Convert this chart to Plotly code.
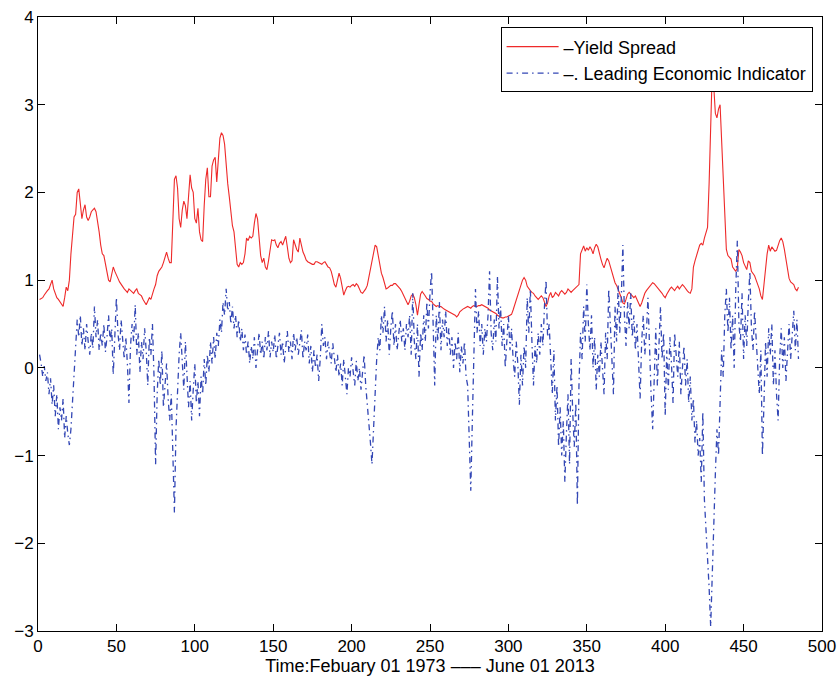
import plotly.graph_objects as go

# Monthly observations, Feb 1973 .. Jun 2013 (485 months)
yield_spread = [
    0.78, 0.79, 0.80, 0.83, 0.86, 0.88, 0.90, 0.95, 1.00, 0.90,
    0.85, 0.80, 0.78, 0.75, 0.72, 0.70, 0.80, 0.92, 0.88, 1.00,
    1.30, 1.55, 1.72, 1.75, 2.00, 2.04, 1.85, 1.70, 1.80, 1.86,
    1.72, 1.68, 1.72, 1.78, 1.80, 1.82, 1.78, 1.68, 1.55, 1.40,
    1.30, 1.28, 1.18, 1.10, 1.00, 0.98, 1.05, 1.15, 1.10, 1.05,
    1.02, 0.98, 0.95, 0.92, 0.90, 0.88, 0.86, 0.90, 0.88, 0.86,
    0.85, 0.88, 0.90, 0.85, 0.83, 0.82, 0.78, 0.74, 0.72, 0.76,
    0.80, 0.78, 0.85, 0.90, 0.95, 1.05, 1.10, 1.12, 1.15, 1.20,
    1.25, 1.32, 1.25, 1.20, 1.20, 1.70, 2.15, 2.19, 2.05, 1.70,
    1.60, 1.80, 1.90, 1.85, 1.70, 1.95, 2.20, 2.05, 2.00, 1.70,
    1.65, 1.82, 1.55, 1.46, 1.44, 1.85, 2.15, 2.28, 1.95, 1.95,
    2.30, 2.37, 2.40, 2.12, 2.40, 2.62, 2.68, 2.65, 2.55, 2.30,
    2.10, 1.95, 1.75, 1.62, 1.55, 1.35, 1.18, 1.15, 1.20, 1.18,
    1.20, 1.30, 1.48, 1.45, 1.50, 1.48, 1.50, 1.65, 1.76, 1.70,
    1.45, 1.28, 1.20, 1.25, 1.15, 1.12, 1.22, 1.35, 1.46, 1.45,
    1.46, 1.40, 1.37, 1.42, 1.44, 1.40, 1.45, 1.50, 1.38, 1.25,
    1.20, 1.22, 1.46, 1.40, 1.35, 1.32, 1.48, 1.40, 1.32, 1.28,
    1.23, 1.21, 1.20, 1.19, 1.18, 1.18, 1.21, 1.21, 1.20, 1.19,
    1.18, 1.20, 1.21, 1.18, 1.15, 1.14, 1.10, 1.03, 0.95, 0.92,
    1.00, 1.08, 1.02, 0.90, 0.83, 0.88, 0.92, 0.93, 0.92, 0.94,
    0.95, 0.93, 0.96, 0.94, 0.90, 0.86, 0.85, 0.87, 0.90, 0.94,
    1.03, 1.15, 1.25, 1.32, 1.40, 1.38, 1.28, 1.18, 1.08, 1.03,
    0.95, 0.90, 0.91, 0.93, 0.94, 0.94, 0.96, 0.96, 0.94, 0.93,
    0.90, 0.87, 0.83, 0.78, 0.74, 0.72, 0.76, 0.82, 0.84, 0.80,
    0.72, 0.60, 0.72, 0.84, 0.87, 0.85, 0.82, 0.79, 0.78, 0.76,
    0.76, 0.73, 0.71, 0.70, 0.71, 0.70, 0.70, 0.68, 0.67, 0.66,
    0.65, 0.64, 0.63, 0.62, 0.61, 0.60, 0.58, 0.60, 0.64, 0.66,
    0.67, 0.68, 0.69, 0.70, 0.69, 0.68, 0.70, 0.71, 0.70, 0.70,
    0.71, 0.71, 0.72, 0.71, 0.70, 0.69, 0.68, 0.66, 0.65, 0.64,
    0.63, 0.62, 0.60, 0.59, 0.58, 0.57, 0.57, 0.58, 0.58, 0.59,
    0.60, 0.61, 0.66, 0.72, 0.76, 0.82, 0.88, 0.95, 1.00, 1.03,
    1.00, 0.93, 0.90, 0.88, 0.86, 0.85, 0.82, 0.80, 0.78, 0.80,
    0.82, 0.80, 0.76, 0.70, 0.74, 0.82, 0.86, 0.80, 0.82, 0.86,
    0.84, 0.82, 0.86, 0.88, 0.86, 0.84, 0.86, 0.90, 0.88, 0.86,
    0.88, 0.90, 0.92, 0.93, 0.95, 1.30, 1.36, 1.39, 1.33, 1.37,
    1.34, 1.38, 1.35, 1.30, 1.37, 1.41, 1.38, 1.30, 1.24, 1.18,
    1.14, 1.20, 1.25, 1.22, 1.15, 1.08, 1.02, 0.97, 0.94, 0.90,
    0.86, 0.80, 0.74, 0.73, 0.78, 0.84, 0.86, 0.84, 0.82, 0.80,
    0.82, 0.78, 0.74, 0.70, 0.74, 0.80, 0.85, 0.88, 0.90, 0.92,
    0.95, 0.97, 0.96, 0.94, 0.92, 0.90, 0.88, 0.85, 0.82, 0.80,
    0.84, 0.88, 0.90, 0.92, 0.90, 0.88, 0.91, 0.93, 0.90, 0.92,
    0.95, 0.93, 0.90, 0.88, 0.86, 0.85, 0.90, 1.15, 1.22, 1.28,
    1.35, 1.40, 1.42, 1.40, 1.48, 1.55, 1.60, 2.10, 2.85, 3.38,
    3.20, 2.90, 2.85, 2.95, 3.00, 2.55, 2.05, 1.65, 1.35, 1.28,
    1.26, 1.24, 1.15, 1.12, 1.10, 1.14, 1.35, 1.32, 1.28, 1.20,
    1.15, 1.12, 1.22, 1.20, 1.10, 1.08, 1.05, 1.00, 0.95, 0.90,
    0.82, 0.78, 0.95, 1.15, 1.30, 1.40, 1.33, 1.38, 1.35, 1.33,
    1.34, 1.40, 1.45, 1.48, 1.44, 1.35, 1.22, 1.10, 1.02, 0.98,
    0.96, 0.95, 0.90, 0.88, 0.92,
]

leading_indicator = [
    0.15, 0.05, -0.10, 0.02, -0.15, -0.05, -0.30, -0.12, -0.42, -0.20,
    -0.55, -0.30, -0.70, -0.45, -0.60, -0.35, -0.80, -0.55, -0.75, -0.88,
    -0.70, -0.40, -0.10, 0.15, 0.55, 0.35, 0.60, 0.25, 0.45, 0.20,
    0.50, 0.30, 0.15, 0.40, 0.22, 0.70, 0.35, 0.55, 0.20, 0.40,
    0.25, 0.50, 0.18, 0.35, 0.60, 0.30, 0.45, -0.08, 0.30, 0.80,
    0.40, 0.20, 0.55, 0.30, 0.10, 0.35, 0.05, -0.40, 0.25, 0.50,
    0.30, 0.72, 0.15, 0.40, -0.05, 0.30, 0.10, 0.45, 0.20, -0.20,
    0.35, 0.15, 0.50, -0.10, -1.10, -0.30, 0.10, -0.20, 0.20, -0.45,
    -0.15, 0.05, -0.35, -0.60, -0.30, -0.90, -1.65, -0.70, -0.20, 0.15,
    0.40, 0.05, -0.25, 0.30, -0.10, -0.45, -0.15, -0.60, -0.25, 0.05,
    -0.40, -0.15, -0.55, -0.10, -0.30, 0.10, -0.20, 0.15, -0.05, 0.30,
    0.05, 0.35, 0.10, 0.40, 0.25, 0.55, 0.40, 0.75, 0.60, 0.90,
    0.65, 0.75, 0.50, 0.70, 0.45, 0.60, 0.35, 0.55, 0.30, 0.45,
    0.20, 0.38, 0.15, 0.30, 0.05, 0.25, 0.10, 0.35, 0.00, 0.20,
    0.40, 0.15, 0.30, 0.10, 0.35, 0.20, 0.42, 0.12, 0.30, 0.18,
    0.38, 0.10, 0.25, 0.40, 0.15, 0.30, 0.05, 0.25, 0.42, 0.18,
    0.30, 0.10, 0.40, 0.20, 0.35, 0.15, 0.28, 0.43, 0.10, 0.30,
    0.20, 0.38, 0.05, 0.25, -0.05, 0.20, 0.00, 0.15, -0.15, 0.10,
    0.50, 0.25, 0.35, 0.10, 0.30, 0.18, 0.05, 0.28, 0.10, -0.05,
    0.15, -0.10, 0.05, -0.20, 0.10, -0.15, -0.30, 0.00, -0.10, 0.12,
    -0.05, -0.20, 0.08, -0.15, 0.00, -0.25, -0.05, 0.15, -0.20, -0.40,
    -0.60, -0.85, -1.10, -0.70, -0.20, 0.10, 0.35, 0.20, 0.60, 0.40,
    0.70, 0.30, 0.55, 0.15, 0.45, 0.65, 0.25, 0.50, 0.20, 0.40,
    0.55, 0.30, 0.45, 0.20, 0.50, 0.35, 0.60, 0.15, 0.85, 0.30,
    0.10, 0.50, -0.10, 0.40, 0.20, 0.60, 0.30, 0.75, 0.45, 0.85,
    1.10, 0.50, -0.20, 0.60, 0.30, 0.75, 0.20, 0.55, 0.35, 0.65,
    0.25, 0.45, 0.15, 0.35, 0.00, 0.30, 0.10, 0.40, -0.05, 0.25,
    0.05, 0.30, -0.10, -0.20, -0.90, -1.40, -0.60, 0.30, 0.90, 0.40,
    0.65, 0.25, 0.50, 0.15, 0.45, 0.30, 0.60, 1.10, 0.40, 0.20,
    0.55, 0.30, 1.05, 0.45, 0.70, 0.25, 0.50, 0.00, 0.35, 0.60,
    0.20, 0.45, 0.10, -0.10, 0.30, 0.05, -0.42, 0.15, -0.20, 0.25,
    0.00, 0.80, 0.40, 0.90, 0.30, -0.20, 0.25, 0.05, 0.40, 0.15,
    0.50, 0.25, 0.70, 1.00, 0.35, 0.50, 0.10, -0.30, 0.20, -0.60,
    -0.20, -0.90, -0.45, -1.00, -0.60, -1.30, -0.75, -0.30, -1.10, 0.10,
    -0.50, -0.90, -0.40, -1.57, -0.20, 0.40, 0.10, 0.70, 0.30, 0.95,
    0.50, 0.20, 0.60, 0.00, 0.35, -0.25, 0.15, -0.10, 0.30, 0.05,
    -0.30, 0.40, 0.10, 0.90, 0.50, 0.20, -0.30, 0.70, 0.30, 0.95,
    0.40, 0.80, 1.40, 0.60, 0.25, 0.75, 0.45, 0.85, 0.35, 0.60,
    0.20, 0.50, 0.05, -0.35, 0.30, 0.60, 0.15, 0.40, 0.80, 0.10,
    -0.30, -0.70, 0.00, 0.45, -0.20, 0.30, 0.70, 0.10, 0.40, -0.55,
    0.20, -0.25, 0.35, 0.05, -0.40, 0.40, 0.15, -0.10, 0.30, -0.30,
    0.00, 0.25, -0.20, 0.10, -0.40, -0.10, -0.60, -0.35, -0.85, -0.60,
    -1.00, -0.80, -1.30, -0.50, -1.50, -1.80, -2.20, -2.50, -2.95, -2.30,
    -1.70, -1.20, -0.70, -1.00, -0.40, 0.20, -0.10, 0.60, 0.90, 0.40,
    0.80, 0.20, 0.60, 0.00, 0.90, 1.45, 0.50, 0.30, 0.85, 0.10,
    0.60, 0.25, 0.75, 1.10, 0.45, 0.20, 0.65, 0.35, 0.05, -0.30,
    0.20, -1.00, -0.40, 0.30, -0.10, 0.45, 0.15, 0.50, -0.20, 0.20,
    -0.30, -0.60, 0.10, 0.45, 0.00, 0.35, -0.15, 0.25, 0.50, 0.10,
    0.40, 0.65, 0.20, 0.55, 0.10,
]

months = list(range(1, len(yield_spread) + 1))

x_ticks = [0, 50, 100, 150, 200, 250, 300, 350, 400, 450, 500]
y_ticks = [-3, -2, -1, 0, 1, 2, 3, 4]

FONT = "Liberation Sans, Arial, Helvetica, sans-serif"

fig = go.Figure()
fig.add_trace(go.Scatter(
    x=months, y=yield_spread, mode="lines", name="–Yield Spread",
    line=dict(color="#ee2a2a", width=1.1),
))
fig.add_trace(go.Scatter(
    x=months, y=leading_indicator, mode="lines",
    name="–. Leading Economic Indicator",
    line=dict(color="#3347b5", width=1.3, dash="6px,4px,1.5px,4px"),
))

axis_common = dict(
    showline=True, linecolor="black", linewidth=1, mirror="allticks",
    ticks="inside", ticklen=7, tickcolor="black", tickwidth=1,
    showgrid=False, zeroline=False, automargin=False,
    tickfont=dict(family=FONT, size=17, color="black"),
)

fig.update_xaxes(
    range=[0, 500], tickvals=x_ticks,
    title=dict(text="Time:Febuary 01 1973 ––– June 01 2013",
               font=dict(family=FONT, size=18, color="black"), standoff=2),
    **axis_common,
)
fig.update_yaxes(range=[-3, 4], tickvals=y_ticks, **axis_common)

fig.update_layout(
    width=840, height=682,
    margin=dict(l=38, r=18, t=17, b=51),
    paper_bgcolor="white", plot_bgcolor="white",
    font=dict(family=FONT, size=17, color="black"),
    showlegend=True,
    legend=dict(
        x=0.988, y=0.983, xanchor="right", yanchor="top",
        bgcolor="white", bordercolor="black", borderwidth=1,
        font=dict(family=FONT, size=18, color="black"),
        tracegroupgap=0, itemwidth=52,
    ),
)

fig.write_html("out.html")
